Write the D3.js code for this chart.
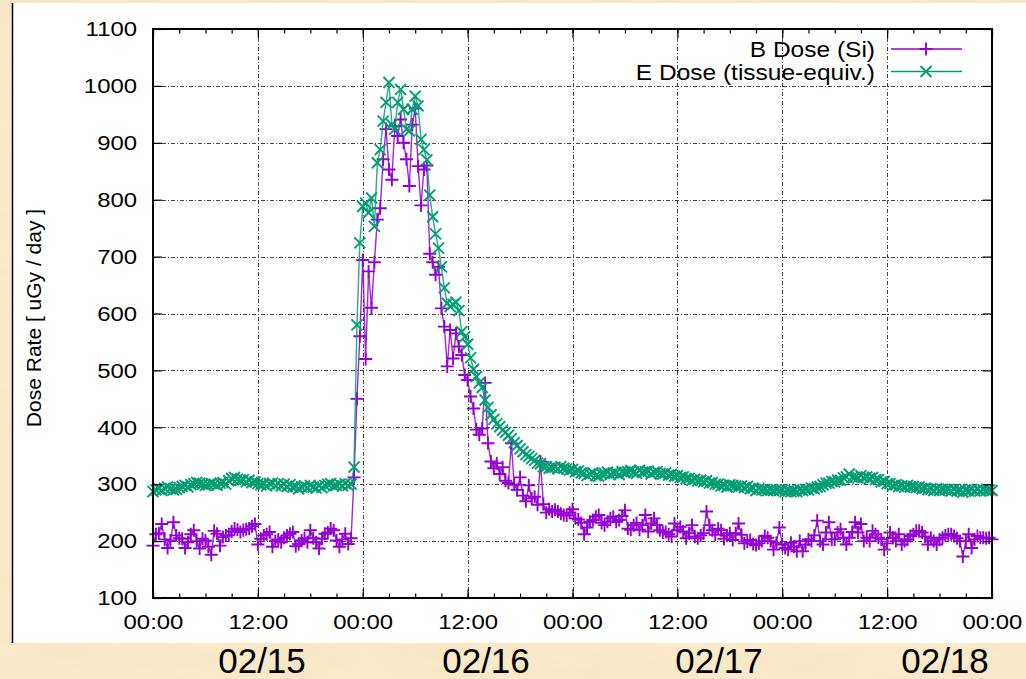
<!DOCTYPE html>
<html>
<head>
<meta charset="utf-8">
<style>
  body { margin: 0; background: #f8e9c7; }
  svg { display: block; font-family: "Liberation Sans", Arial, sans-serif; }
  .axis text { font-size: 21px; fill: #000; }
  .axis .domain { display: none; }
  .axis line { stroke: #000; stroke-width: 1.2; }
</style>
</head>
<body>
<svg width="1026" height="679"></svg>
<script src="https://d3js.org/d3.v7.min.js"></script>
<script>
// samples every 20 minutes, starting 00:00 at the left edge
const stepMinutes = 20;
const seriesNames = ["B Dose (Si)", "E Dose (tissue-equiv.)"];
const dayLabels = ["02/15", "02/16", "02/17", "02/18"];
const yTicks = [100, 200, 300, 400, 500, 600, 700, 800, 900, 1000, 1100];
const yLabel = "Dose Rate [ uGy / day ]";

const bDose = [
  192,212,214,230,203,188,201,233,210,205,
  204,188,198,212,219,200,187,204,201,190,
  176,218,213,192,207,210,210,217,222,220,
  216,219,221,222,226,230,194,204,210,212,
  216,190,200,203,198,206,210,213,216,191,
  195,201,205,198,219,205,198,187,204,213,
  215,222,219,201,190,203,213,195,205,312,
  450,560,694,520,674,610,690,765,785,871,
  924,853,835,929,912,941,900,871,824,932,
  960,859,790,853,860,705,690,668,682,609,
  577,507,571,521,565,542,527,492,483,454,
  433,396,387,398,478,372,340,328,337,318,
  330,306,302,372,299,290,312,280,270,298,
  275,278,264,340,265,250,256,252,255,252,
  248,246,245,250,256,240,238,232,212,224,
  234,237,243,246,232,228,234,240,243,234,
  237,244,254,222,220,228,232,220,228,246,
  217,231,240,228,219,215,216,212,208,231,
  219,225,217,205,214,228,208,205,210,214,
  252,228,219,211,222,219,204,210,214,202,
  214,231,211,196,199,202,195,193,196,200,
  209,206,200,185,197,224,194,188,185,197,
  190,182,200,182,194,203,200,210,236,200,
  194,215,233,203,203,215,221,206,194,206,
  216,233,215,230,200,206,200,218,212,206,
  203,185,196,215,206,200,212,194,200,203,
  209,212,218,218,215,208,194,206,200,194,
  203,206,210,212,212,209,205,200,173,200,
  212,188,203,209,206,206,205,206,203
];

const eDose = [
  287,290,292,289,293,295,292,290,291,294,
  296,298,295,299,301,303,302,300,298,299,
  301,300,298,302,303,300,306,310,312,309,
  307,308,304,307,303,304,301,299,300,297,
  301,302,298,301,297,300,296,299,295,296,
  292,295,297,294,298,295,293,297,294,298,
  300,301,297,298,300,297,301,298,300,330,
  580,724,788,794,777,803,753,865,888,938,
  971,1006,932,924,971,994,959,924,921,959,
  982,965,906,888,870,808,770,740,715,682,
  645,618,612,616,620,605,568,559,546,522,
  502,489,478,470,448,435,422,414,406,401,
  395,391,386,380,373,368,362,357,352,349,
  345,342,337,336,331,331,328,329,330,327,
  331,328,327,325,326,322,323,320,319,315,
  318,320,315,314,318,319,321,317,320,320,
  317,322,321,322,324,321,319,324,321,322,
  323,318,321,322,319,318,320,316,317,314,
  315,312,313,310,310,307,309,306,307,304,
  306,302,303,300,300,297,298,295,299,298,
  297,295,297,294,296,292,293,289,292,290,
  291,289,290,289,290,289,290,287,288,287,
  288,287,290,289,291,290,293,292,295,296,
  299,302,302,305,304,307,307,311,313,318,
  312,312,311,315,312,313,310,312,308,308,
  304,305,301,301,298,299,296,297,295,298,
  295,296,294,295,292,293,290,292,289,292,
  289,291,290,291,288,291,288,289,286,289,
  288,291,288,291,288,290,289,290,289
];

const colors = ["#9400d3", "#009e73"];
const stretch = 1.14;   // gnuplot text looks horizontally stretched
const box = { left: 153, right: 992, top: 29, bottom: 598 };

const svg = d3.select("svg");

// paper-like background
const defs = svg.append("defs");
const paper = defs.append("filter").attr("id", "paper").attr("x", 0).attr("y", 0).attr("width", "100%").attr("height", "100%");
paper.append("feTurbulence").attr("type", "fractalNoise").attr("baseFrequency", "0.012 0.03").attr("numOctaves", 3).attr("seed", 4);
paper.append("feColorMatrix").attr("type", "matrix")
  .attr("values", "0 0 0 0 0.86  0 0 0 0 0.74  0 0 0 0 0.50  0.9 0 0 0 -0.32");
svg.append("rect").attr("width", 1026).attr("height", 679).attr("fill", "#f9ebca");
svg.append("rect").attr("width", 1026).attr("height", 679).attr("filter", "url(#paper)");

// white panel
svg.append("rect").attr("x", 12).attr("y", 3).attr("width", 1014).attr("height", 640).attr("fill", "#fff");
svg.append("line").attr("x1", 12.5).attr("x2", 12.5).attr("y1", 3).attr("y2", 643)
  .attr("stroke", "#000").attr("stroke-width", 1.5);

const t0 = new Date(2000, 1, 15, 0, 0);
const t1 = d3.timeHour.offset(t0, 96);
const times = d3.range(bDose.length).map(i => d3.timeMinute.offset(t0, i * stepMinutes));

const x = d3.scaleTime().domain([t0, t1]).range([box.left, box.right]);
const y = d3.scaleLinear().domain([100, 1100]).range([box.bottom, box.top]);

const xMajor = d3.timeHour.every(12).range(t0, d3.timeHour.offset(t1, 1));
const xMinor = d3.timeHour.every(3).range(t0, d3.timeHour.offset(t1, 1));

// grid
const grid = svg.append("g").attr("stroke", "#444").attr("stroke-width", 1).attr("stroke-dasharray", "4,2,1,2");
grid.selectAll(".gy").data(yTicks.slice(1, -1)).join("line")
  .attr("x1", box.left).attr("x2", box.right)
  .attr("y1", d => Math.round(y(d)) + 0.5).attr("y2", d => Math.round(y(d)) + 0.5);
grid.selectAll(".gx").data(xMajor.slice(1, -1)).join("line")
  .attr("y1", box.top).attr("y2", box.bottom)
  .attr("x1", d => Math.round(x(d)) + 0.5).attr("x2", d => Math.round(x(d)) + 0.5);

// series
const line = d3.line().x((d, i) => x(times[i])).y(d => y(d));
const plusPath = "M-6.5,0H6.5M0,-6.5V6.5";
const crossPath = "M-5.5,-5.5L5.5,5.5M-5.5,5.5L5.5,-5.5";
[bDose, eDose].forEach((vals, s) => {
  svg.append("path").datum(vals)
    .attr("d", line).attr("fill", "none")
    .attr("stroke", colors[s]).attr("stroke-width", 1.4).attr("stroke-opacity", 0.85);
  svg.append("g").selectAll("path").data(vals).join("path")
    .attr("transform", (d, i) => `translate(${x(times[i])},${y(d)})`)
    .attr("d", s === 0 ? plusPath : crossPath)
    .attr("stroke", colors[s]).attr("stroke-width", 1.9).attr("fill", "none");
});

// axes (ticks pointing inward, mirrored)
const fmt = d3.timeFormat("%H:%M");
svg.append("g").attr("class", "axis").attr("transform", `translate(0,${box.bottom})`)
  .call(d3.axisBottom(x).tickValues(xMinor).tickSize(-4.5).tickFormat(""));
const bottomMajor = svg.append("g").attr("class", "axis").attr("transform", `translate(0,${box.bottom})`)
  .call(d3.axisBottom(x).tickValues(xMajor).tickSize(-9).tickPadding(16).tickFormat(fmt));
svg.append("g").attr("class", "axis").attr("transform", `translate(0,${box.top})`)
  .call(d3.axisTop(x).tickValues(xMinor).tickSize(-4.5).tickFormat(""));
svg.append("g").attr("class", "axis").attr("transform", `translate(0,${box.top})`)
  .call(d3.axisTop(x).tickValues(xMajor).tickSize(-9).tickFormat(""));
const left = svg.append("g").attr("class", "axis").attr("transform", `translate(${box.left},0)`)
  .call(d3.axisLeft(y).tickValues(yTicks).tickSize(-9).tickPadding(14).tickFormat(d3.format("d")));
svg.append("g").attr("class", "axis").attr("transform", `translate(${box.right},0)`)
  .call(d3.axisRight(y).tickValues(yTicks).tickSize(-9).tickFormat(""));

bottomMajor.selectAll("text").attr("transform", `scale(${stretch},1)`);
left.selectAll("text").attr("transform", `scale(${stretch},1)`);

// border
svg.append("rect")
  .attr("x", box.left).attr("y", box.top)
  .attr("width", box.right - box.left).attr("height", box.bottom - box.top)
  .attr("fill", "none").attr("stroke", "#000").attr("stroke-width", 2);

// y label
svg.append("text")
  .attr("transform", "translate(41,318) rotate(-90)")
  .attr("text-anchor", "middle").attr("font-size", 21)
  .text(yLabel);

// legend
const legend = svg.append("g");
seriesNames.forEach((name, s) => {
  const ly = 49 + s * 22.5;
  legend.append("text")
    .attr("transform", `translate(875,${ly + 8}) scale(${stretch},1)`)
    .attr("text-anchor", "end").attr("font-size", 21.5)
    .text(name);
  legend.append("line")
    .attr("x1", 891).attr("x2", 962).attr("y1", ly).attr("y2", ly)
    .attr("stroke", colors[s]).attr("stroke-width", 1.4);
  legend.append("path")
    .attr("transform", `translate(926,${ly})`)
    .attr("d", s === 0 ? plusPath : crossPath)
    .attr("stroke", colors[s]).attr("stroke-width", 1.9).attr("fill", "none");
});

// day labels below the panel
const dayCenters = [262, 486, 719, 945];
svg.append("g").selectAll("text").data(dayLabels).join("text")
  .attr("x", (d, i) => dayCenters[i]).attr("y", 673)
  .attr("text-anchor", "middle").attr("font-size", 35)
  .text(d => d);
</script>
</body>
</html>
